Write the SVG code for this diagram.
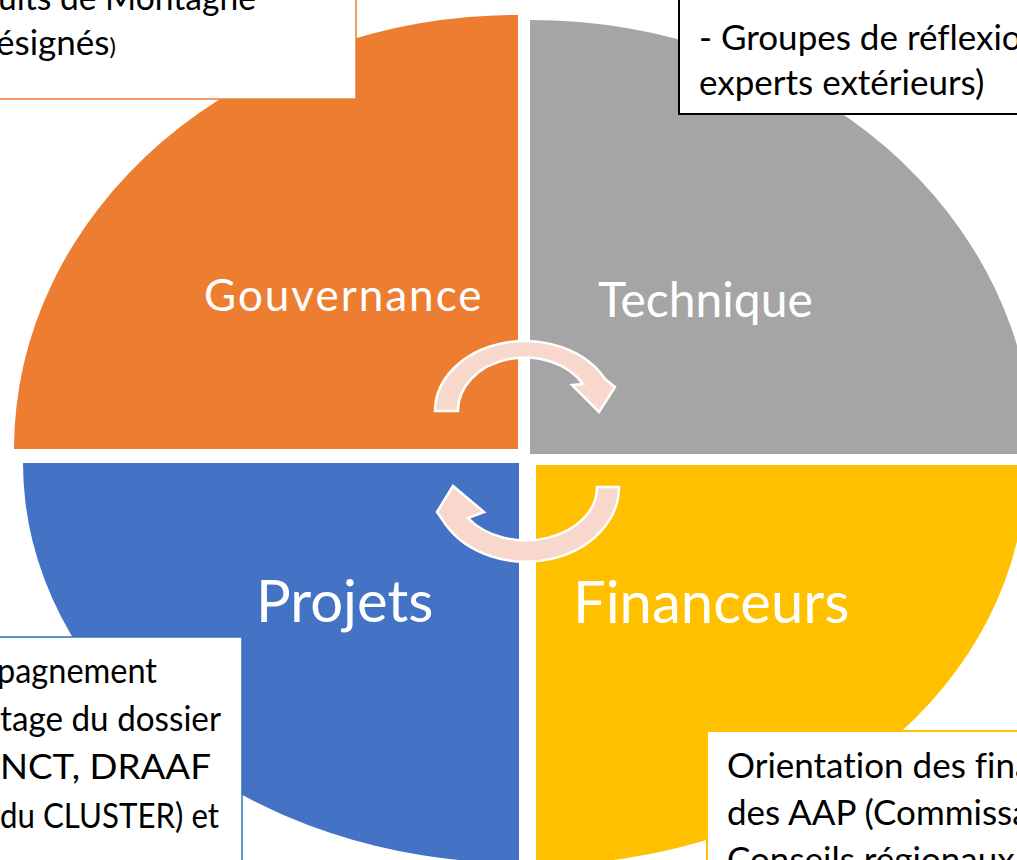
<svg xmlns="http://www.w3.org/2000/svg" width="1017" height="860" viewBox="0 0 1017 860">
<style>
.box{fill:#FFFFFF;}
.bt{font-family:Lato,"Open Sans","Liberation Sans",sans-serif;font-size:35px;fill:#000000;font-variant-ligatures:none;}
.lbl{font-family:Lato,"Open Sans","Liberation Sans",sans-serif;fill:#FFFFFF;font-variant-ligatures:none;}
.arrow{fill:#F8D8CD;stroke:#FFFFFF;stroke-width:2.5;stroke-linejoin:miter;}
</style>
<rect width="1017" height="860" fill="#FFFFFF"/>
<g id="gouvernance">
<path d="M 518 449 L 14 449 A 504 434 0 0 1 518 15 Z" fill="#ED7D31"/>
<text class="lbl" x="204" y="311" font-size="44" letter-spacing="2">Gouvernance</text>
</g>
<g id="technique">
<path d="M 530 454 L 530 20 A 503 434 0 0 1 1033 454 Z" fill="#A5A5A5"/>
<text class="lbl" x="598" y="317" font-size="48">Technique</text>
</g>
<g id="projets">
<path d="M 519 463 L 23 463 A 496 400 0 0 0 519 863 Z" fill="#4472C4"/>
<text class="lbl" x="256" y="622" font-size="58">Projets</text>
</g>
<g id="financeurs">
<path d="M 536 465 L 1026 465 A 490 400 0 0 1 536 865 Z" fill="#FFC000"/>
<text class="lbl" x="573" y="623" font-size="58">Financeurs</text>
</g>
<g id="connectors">
<path class="arrow" d="M 435 411 A 90 70 0 0 1 605 379 L 615 387 L 599 412 L 572 385 L 583 384 A 67 53 0 0 0 458 411 Z"/>
<path class="arrow" d="M 619 487 A 93 75 0 0 1 446 525 L 437 512 L 453 486 L 484 512 L 468 518 A 71 53 0 0 0 597 487 Z"/>
</g>
<g id="box-gouvernance">
<rect class="box" x="-10" y="-10" width="366" height="109" stroke="#ED7D31" stroke-width="1.5"/>
<text class="bt" x="-2" y="10" textLength="258" lengthAdjust="spacingAndGlyphs">uits de Montagne</text>
<text class="bt" x="-4" y="55">ésignés<tspan font-size="24">)</tspan></text>
</g>
<g id="box-technique">
<rect class="box" x="679" y="-10" width="350" height="124" stroke="#000000" stroke-width="2"/>
<text class="bt" x="699" y="50">- Groupes de réflexio</text>
<text class="bt" x="699" y="95">experts extérieurs)</text>
</g>
<g id="box-projets">
<rect class="box" x="-10" y="637" width="252" height="240" stroke="#2E75B6" stroke-width="1.5"/>
<text class="bt" x="-3" y="683" textLength="160" lengthAdjust="spacingAndGlyphs">pagnement</text>
<text class="bt" x="0" y="731" textLength="221" lengthAdjust="spacingAndGlyphs">tage du dossier</text>
<text class="bt" x="0" y="779" textLength="211" lengthAdjust="spacingAndGlyphs">NCT, DRAAF</text>
<text class="bt" x="0" y="828" textLength="219" lengthAdjust="spacingAndGlyphs">du CLUSTER) et</text>
</g>
<g id="box-financeurs">
<rect class="box" x="707" y="731" width="320" height="140" stroke="#FFC000" stroke-width="2"/>
<text class="bt" x="727" y="778">Orientation des fina</text>
<text class="bt" x="727" y="825">des AAP (Commissa</text>
<text class="bt" x="727" y="872">Conseils régionaux</text>
</g>
</svg>
